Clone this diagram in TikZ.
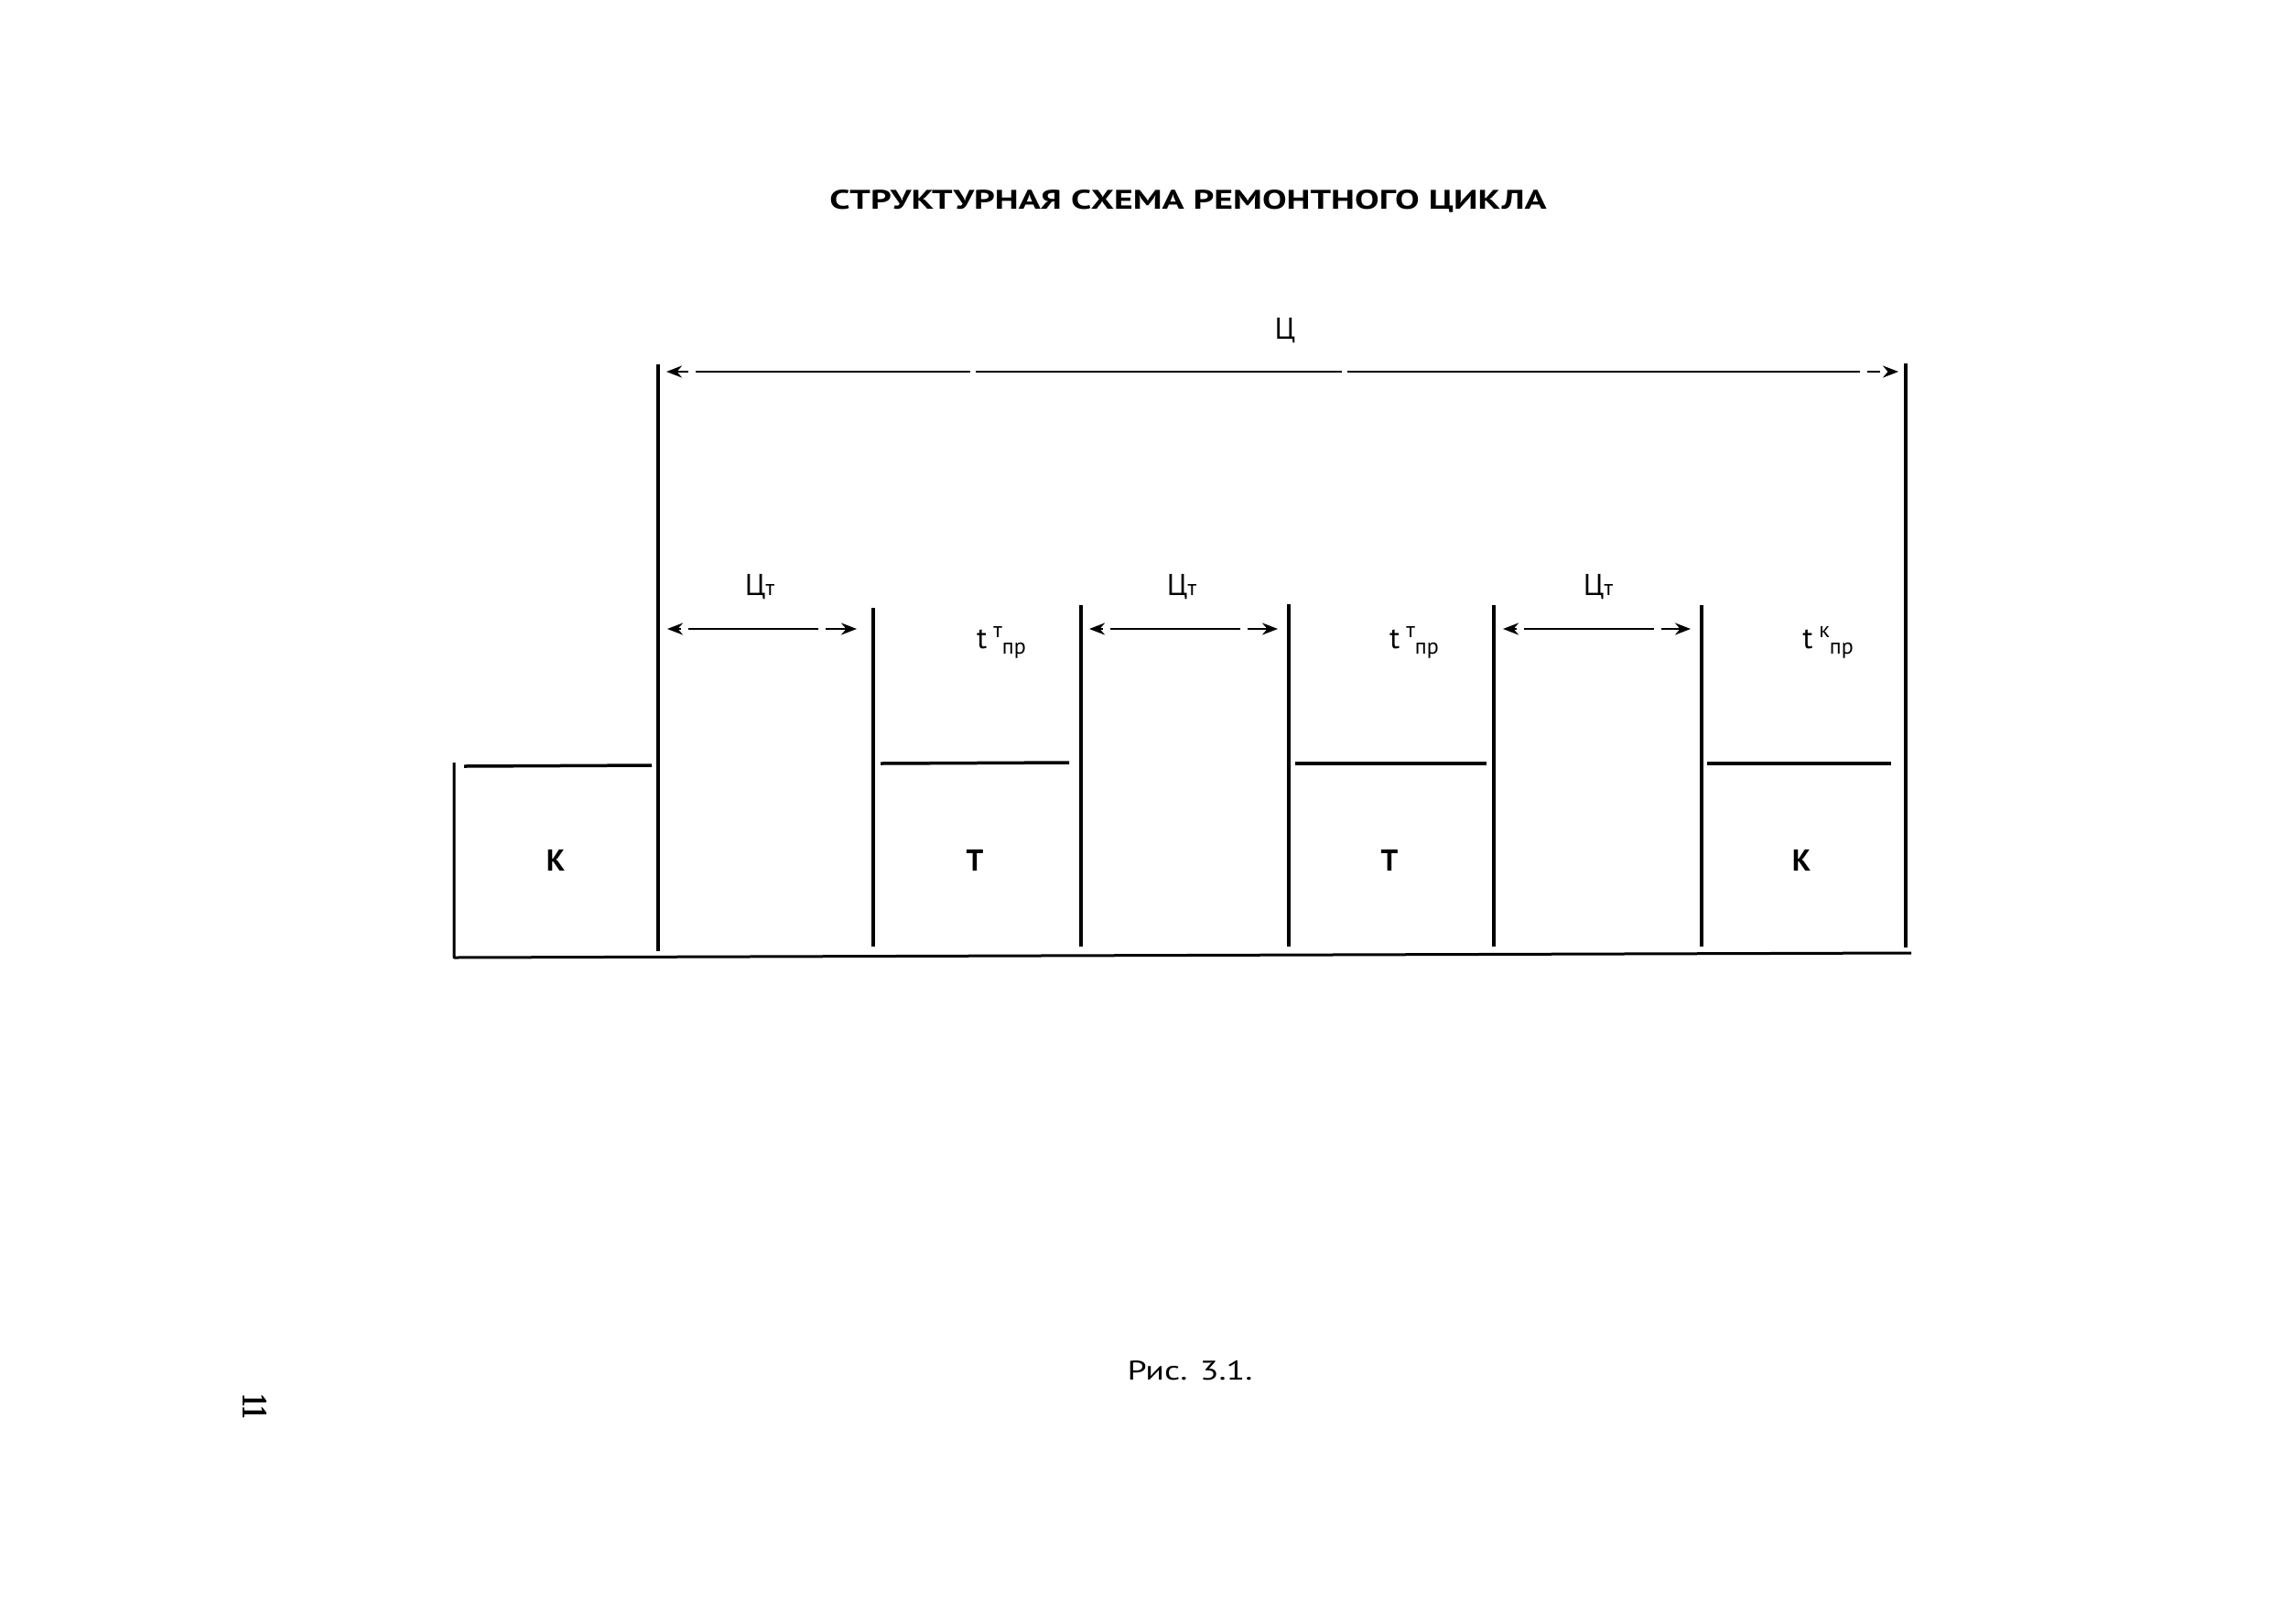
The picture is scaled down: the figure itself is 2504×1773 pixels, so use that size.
\documentclass[tikz,border=0pt]{standalone}
\usepackage{fontspec}
\setmainfont{PT Sans}
\newfontfamily\numfont{Liberation Serif}
\usetikzlibrary{arrows.meta}
\begin{document}
\begin{tikzpicture}[x=1pt,y=-1pt,
  wall/.style={line width=4pt},
  capline/.style={line width=3.5pt},
  baseline/.style={line width=3pt, line join=round},
  dimline/.style={line width=2.5pt,
    {Stealth[length=17pt,width=13pt]}-{Stealth[length=17pt,width=13pt]}},
  longdash/.style={dash pattern=on 14pt off 8pt on 300pt off 6pt on 400pt off 6pt on 560pt off 8pt},
  shortdash/.style={dash pattern=on 5pt off 8pt on 142pt off 8pt on 60pt},
  big/.style={inner sep=0pt, anchor=base, font=\fontsize{33}{36}\selectfont},
  mid/.style={inner sep=0pt, anchor=base, font=\fontsize{33}{36}\selectfont},
]
\useasboundingbox (0,0) rectangle (2504,1773);

% title
\node[inner sep=0pt, anchor=base] (title) at (1298,228)
  {\resizebox{783pt}{21pt}{\bfseries СТРУКТУРНАЯ СХЕМА РЕМОНТНОГО ЦИКЛА}};

% vertical walls
\coordinate (v1t) at (719,398);  \coordinate (v1b) at (719,1039);
\coordinate (v2t) at (954,664);  \coordinate (v2b) at (954,1034);
\coordinate (v3t) at (1181,661); \coordinate (v3b) at (1181,1034);
\coordinate (v4t) at (1408,660); \coordinate (v4b) at (1408,1034);
\coordinate (v5t) at (1632,661); \coordinate (v5b) at (1632,1034);
\coordinate (v6t) at (1859,661); \coordinate (v6b) at (1859,1034);
\coordinate (v7t) at (2082,397); \coordinate (v7b) at (2082,1035);
\foreach \i in {1,...,7} { \draw[wall] (v\i t) -- (v\i b); }

% left box and base line
\coordinate (b0t) at (496,833);
\coordinate (b0b) at (496,1046);
\coordinate (bend) at (2088,1041);
\draw[baseline] (b0t) -- (b0b) -- (bend);

% tops of the blocks
\coordinate (c1a) at (507,837);  \coordinate (c1b) at (712,836);
\coordinate (c2a) at (962,834);  \coordinate (c2b) at (1168,833);
\coordinate (c3a) at (1415,834); \coordinate (c3b) at (1624,834);
\coordinate (c4a) at (1865,834); \coordinate (c4b) at (2066,834);
\foreach \i in {1,...,4} { \draw[capline] (c\i a) -- (c\i b); }

% dimension arrows
\coordinate (L1) at (719,406);  \coordinate (L2) at (2082,406);
\draw[dimline, longdash, shorten <=9pt, shorten >=8pt] (L1) -- (L2);
\coordinate (a1) at (719,687);  \coordinate (a2) at (954,687);
\coordinate (a3) at (1181,687); \coordinate (a4) at (1408,687);
\coordinate (a5) at (1632,687); \coordinate (a6) at (1859,687);
\draw[dimline, shortdash, shorten <=10pt, shorten >=18pt] (a1) -- (a2);
\draw[dimline, shortdash, shorten <=9pt, shorten >=12pt] (a3) -- (a4);
\draw[dimline, shortdash, shorten <=10pt, shorten >=12pt] (a5) -- (a6);

% labels
\node[big] (C) at (1404,370) {Ц};
\node[mid] (ct1) at (830,650) {Ц\fontsize{24}{26}\selectfont т};
\node[mid] (ct2) at (1291,650) {Ц\fontsize{24}{26}\selectfont т};
\node[mid] (ct3) at (1746,650) {Ц\fontsize{24}{26}\selectfont т};

\newcommand{\tlab}[1]{t\hspace{7pt}{\fontsize{24}{26}\selectfont\raisebox{12pt}{#1}\raisebox{-6pt}{пр}}}
\node[mid] (t1) at (1094,708) {\tlab{т}};
\node[mid] (t2) at (1545,708) {\tlab{т}};
\node[mid] (t3) at (1997,708) {\tlab{к}};

\node[big, font=\fontsize{33}{36}\selectfont\bfseries] (k1) at (607,951) {К};
\node[big, font=\fontsize{33}{36}\selectfont\bfseries] (T1) at (1065,951) {Т};
\node[big, font=\fontsize{33}{36}\selectfont\bfseries] (T2) at (1518,951) {Т};
\node[big, font=\fontsize{33}{36}\selectfont\bfseries] (k2) at (1968,951) {К};

% caption
\node[inner sep=0pt, anchor=base] (cap) at (1300,1507)
  {\resizebox{137pt}{21pt}{Рис. 3.1.}};

% page number
\node[inner sep=0pt, rotate=-90] (pg) at (278,1536)
  {\resizebox{28pt}{26pt}{\numfont\bfseries 11}};
\end{tikzpicture}
\end{document}
